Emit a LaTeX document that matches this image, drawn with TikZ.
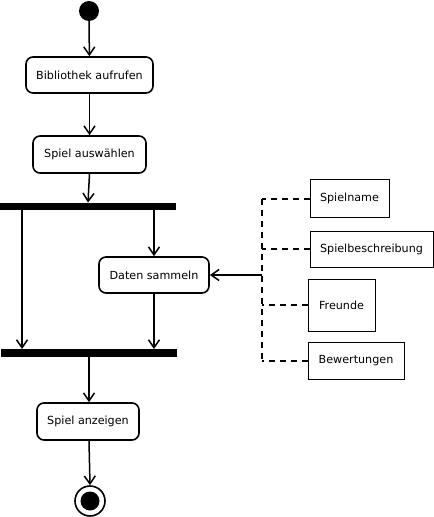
\documentclass[tikz,border=0pt]{standalone}
\usepackage{fontspec}
\setmainfont{DejaVu Sans}
\usetikzlibrary{arrows.meta}
\begin{document}
\begin{tikzpicture}[x=1bp,y=-1bp,
  act/.style={draw,line width=1.6bp,rounded corners=7bp,inner sep=0pt,font=\fontsize{11.2}{13}\selectfont},
  obj/.style={draw,line width=1bp,inner sep=0pt,font=\fontsize{11.2}{13}\selectfont},
  bar/.style={fill=black,draw=none,inner sep=0pt},
  flow/.style={line width=1.5bp,-{Straight Barb[length=8bp,width=11bp,line width=1.5bp]}},
  dep/.style={line width=1.8bp,dash pattern=on 6bp off 5bp}]
\useasboundingbox (0,0) rectangle (434,517);
\node[circle,fill=black,minimum size=20bp,inner sep=0pt] (start) at (89,11) {};
\node[act,minimum width=127bp,minimum height=36bp] (b1) at (89.5,75) {Bibliothek aufrufen};
\node[act,minimum width=113bp,minimum height=37bp] (b2) at (89.5,154.5) {Spiel auswählen};
\node[bar,minimum width=176bp,minimum height=7.5bp] (f1) at (88,206.5) {};
\node[act,minimum width=110bp,minimum height=36bp] (ds) at (154,275) {Daten sammeln};
\node[bar,minimum width=176bp,minimum height=7.5bp] (f2) at (89,353) {};
\node[act,minimum width=102bp,minimum height=37bp] (sa) at (88,421.5) {Spiel anzeigen};
\node[circle,draw,line width=1.6bp,minimum size=30bp,inner sep=0pt] (end) at (90,501) {};
\node[circle,fill=black,minimum size=19bp,inner sep=0pt] (endin) at (90,501) {};
% objects
\node[obj,minimum width=79bp,minimum height=37bp] (o1) at (349.5,198.5) {Spielname};
\node[obj,minimum width=123bp,minimum height=36bp] (o2) at (371.5,249) {Spielbeschreibung};
\node[obj,minimum width=67bp,minimum height=52bp] (o3) at (341.5,305) {Freunde};
\node[obj,minimum width=96bp,minimum height=37bp] (o4) at (356,360.5) {Bewertungen};
\coordinate (top) at (262,199);
\coordinate (bot) at (262,361);
\coordinate (jn) at (262,275);
% flows
\draw[flow] (start) -- (b1);
\draw[flow] (b1) -- (b2);
\draw[flow] (b2.south) -- (f1.north);
\draw[flow] (f1.south -| 22,0) -- (f2.north -| 22,0);
\draw[flow] (f1.south -| ds.north) -- (ds.north);
\draw[flow] (ds.south) -- (f2.north -| ds.south);
\draw[flow] (f2.south -| 89,0) -- (sa.north -| 89,0);
\draw[flow] (sa.south -| 89,0) -- (end.north);
\draw[flow] (jn) -- (ds.east);
% dependencies
\draw[dep] (top) -- (bot);
\draw[dep] (o1.west |- top) -- (top);
\draw[dep] (o2.west) -- (o2.west -| top);
\draw[dep] (o3.west) -- (o3.west -| top);
\draw[dep] (o4.west |- bot) -- (bot);
\end{tikzpicture}
\end{document}
